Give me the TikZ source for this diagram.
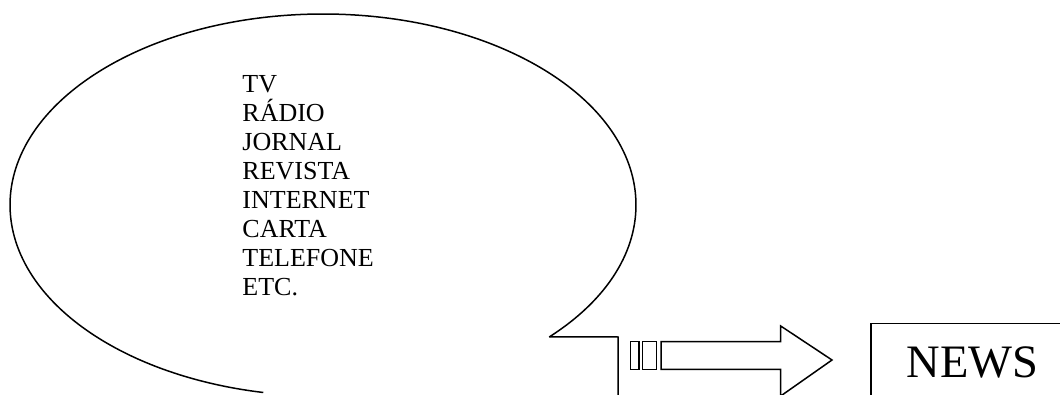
\documentclass[tikz,border=0pt]{standalone}
\usepackage{fontspec}
\setmainfont{Liberation Serif}
\begin{document}
\begin{tikzpicture}[x=1pt,y=1pt,line width=1.5pt,
  shape line/.style={draw=black,line join=miter},
  listtext/.style={anchor=base west,inner sep=0pt,font=\fontsize{26}{29}\selectfont},
  newstext/.style={anchor=base west,inner sep=0pt,font=\fontsize{46.5}{50}\selectfont}]
\useasboundingbox (0,0) rectangle (1060,-395);
\clip (0,0) rectangle (1060,-395);
% speech bubble
\coordinate (c) at (323,-205);
\draw[shape line] (c) ++(-43.7:313 and 191) coordinate (tp)
  arc[start angle=-43.7,end angle=259,x radius=313,y radius=191];
\coordinate (tailcorner) at (618,-337);
\coordinate (tailend) at (618,-410);
\draw[shape line] (tp) -- (tailcorner) -- (tailend);
% list of media
\foreach \t [count=\i from 0] in {TV,RÁDIO,JORNAL,REVISTA,INTERNET,CARTA,TELEFONE,ETC.}
  \node[listtext] (item\i) at (241.7,{-92.7-28.9*\i}) {\t};
% arrow
\draw[shape line] (630.7,-341.7) rectangle (639,-369.3);
\draw[shape line] (642.3,-341.7) rectangle (656.7,-369.3);
\draw[shape line] (661,-341.7) -- (780.7,-341.7) -- (780.7,-326) -- (832,-360)
  -- (780.7,-396) -- (780.7,-369.3) -- (661,-369.3) -- cycle;
% NEWS box
\coordinate (boxtr) at (1075,-323.3);
\coordinate (boxtl) at (871,-323.3);
\coordinate (boxbl) at (871,-410);
\draw[shape line] (boxtr) -- (boxtl) -- (boxbl);
\node[newstext] (news) at (905.7,-377.3) {NEWS};
\end{tikzpicture}
\end{document}
